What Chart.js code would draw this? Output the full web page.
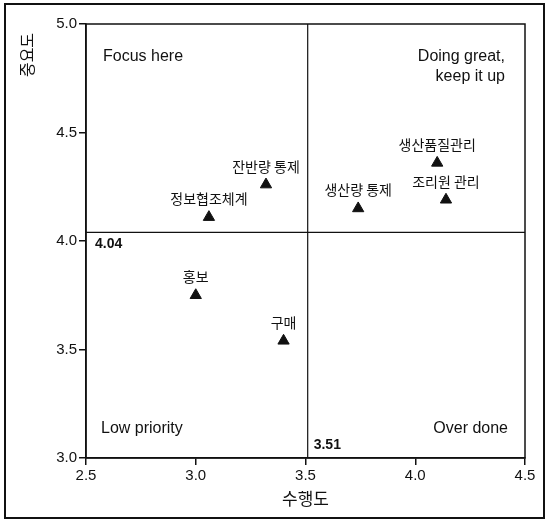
<!DOCTYPE html>
<html>
<head>
<meta charset="utf-8">
<script src="https://cdn.jsdelivr.net/npm/chart.js@4"></script>
<style>
  html, body { margin: 0; padding: 0; background: #fff; }
  #wrap { width: 548px; height: 523px; position: relative; }
</style>
</head>
<body>
<div id="wrap"><canvas id="ipa" width="548" height="523"></canvas></div>
<script>
// IPA data: 수행도 (x) vs 중요도 (y)
const items = ['정보협조체계', '잔반량 통제', '생산량 통제', '생산품질관리', '조리원 관리', '홍보', '구매'];
const performance = [3.06, 3.32, 3.74, 4.10, 4.14, 3.00, 3.40];
const importance = [4.11, 4.26, 4.15, 4.36, 4.19, 3.75, 3.54];

const meanPerformance = 3.51;
const meanImportance = 4.04;

const xTicks = [2.5, 3.0, 3.5, 4.0, 4.5];
const yTicks = [3.0, 3.5, 4.0, 4.5, 5.0];

const xTitle = '수행도';
const yTitle = '중요도';
const quadrantNames = ['Focus here', 'Doing great,\nkeep it up', 'Low priority', 'Over done'];

const numFont = '"Liberation Sans", Arial, sans-serif';
const krFont = '"Noto Sans CJK KR", "Noto Sans", sans-serif';

const points = items.map((name, i) => ({ x: performance[i], y: importance[i], name: name }));

// draws outer frame, plot box, y title, point labels and quadrant texts
const decorations = {
    id: 'decorations',
    beforeDraw(chart) {
        const ctx = chart.ctx;
        ctx.save();
        ctx.strokeStyle = '#111';
        ctx.lineWidth = 2;
        ctx.strokeRect(5, 4, 539, 514);
        ctx.restore();
    },
    afterDatasetsDraw(chart) {
        const ctx = chart.ctx;
        const area = chart.chartArea;
        const xs = chart.scales.x;
        const ys = chart.scales.y;
        ctx.save();

        // plot box
        ctx.strokeStyle = '#111';
        ctx.lineWidth = 1.5;
        ctx.strokeRect(area.left, area.top, area.right - area.left, area.bottom - area.top);

        // y title, rotated, near the top
        ctx.save();
        ctx.translate(27, area.top + 31);
        ctx.rotate(-Math.PI / 2);
        ctx.fillStyle = '#111';
        ctx.font = '16px ' + krFont;
        ctx.textAlign = 'center';
        ctx.textBaseline = 'middle';
        ctx.fillText(yTitle, 0, 0);
        ctx.restore();

        // point labels
        const meta = chart.getDatasetMeta(0);
        ctx.fillStyle = '#111';
        ctx.font = '14px ' + krFont;
        ctx.textAlign = 'center';
        ctx.textBaseline = 'alphabetic';
        meta.data.forEach((pt, i) => {
            ctx.fillText(points[i].name, pt.x, pt.y - 13);
        });

        // quadrant names
        ctx.font = '16px ' + numFont;
        ctx.textBaseline = 'middle';
        ctx.textAlign = 'left';
        ctx.fillText(quadrantNames[0], area.left + 17, area.top + 33);
        ctx.fillText(quadrantNames[2], area.left + 15, area.bottom - 29);
        ctx.textAlign = 'right';
        quadrantNames[1].split('\n').forEach((line, k) => {
            ctx.fillText(line, area.right - 20, area.top + 33 + k * 20);
        });
        ctx.fillText(quadrantNames[3], area.right - 17, area.bottom - 29);

        // mean value labels
        ctx.font = 'bold 14px ' + numFont;
        ctx.textAlign = 'left';
        ctx.fillText(meanImportance.toFixed(2), area.left + 9, ys.getPixelForValue(meanImportance) + 12);
        ctx.fillText(meanPerformance.toFixed(2), xs.getPixelForValue(meanPerformance) + 6, area.bottom - 13);

        ctx.restore();
    }
};

new Chart(document.getElementById('ipa'), {
    type: 'scatter',
    data: {
        datasets: [
            {
                label: '항목',
                data: points,
                pointStyle: 'triangle',
                pointRadius: 6.5,
                backgroundColor: '#111',
                borderColor: '#111',
                borderWidth: 1
            },
            {
                label: 'mean importance',
                type: 'line',
                data: [{ x: xTicks[0], y: meanImportance }, { x: xTicks[xTicks.length - 1], y: meanImportance }],
                borderColor: '#111',
                borderWidth: 1.2,
                pointRadius: 0
            },
            {
                label: 'mean performance',
                type: 'line',
                data: [{ x: meanPerformance, y: yTicks[0] }, { x: meanPerformance, y: yTicks[yTicks.length - 1] }],
                borderColor: '#111',
                borderWidth: 1.2,
                pointRadius: 0
            }
        ]
    },
    options: {
        responsive: false,
        animation: false,
        layout: { padding: { left: 6, right: 23, top: 24, bottom: 12 } },
        plugins: {
            legend: { display: false },
            tooltip: { enabled: false }
        },
        scales: {
            x: {
                type: 'linear',
                min: 2.5,
                max: 4.5,
                afterBuildTicks: (axis) => { axis.ticks = xTicks.map(v => ({ value: v })); },
                afterFit: (axis) => { axis.height = 53; },
                border: { display: true, color: '#111', width: 1.5 },
                grid: { drawOnChartArea: false, color: '#111', tickLength: 7, lineWidth: 1.5 },
                ticks: {
                    color: '#111',
                    padding: 2,
                    font: { family: numFont, size: 15 },
                    callback: (v) => v.toFixed(1)
                },
                title: {
                    display: true,
                    text: xTitle,
                    color: '#111',
                    padding: { top: 2, bottom: 2 },
                    font: { family: krFont, size: 17 }
                }
            },
            y: {
                type: 'linear',
                min: 3.0,
                max: 5.0,
                afterBuildTicks: (axis) => { axis.ticks = yTicks.map(v => ({ value: v })); },
                afterFit: (axis) => { axis.width = 80; },
                border: { display: true, color: '#111', width: 1.5 },
                grid: { drawOnChartArea: false, color: '#111', tickLength: 7, lineWidth: 1.5 },
                ticks: {
                    color: '#111',
                    padding: 2,
                    font: { family: numFont, size: 15 },
                    callback: (v) => v.toFixed(1)
                },
                title: { display: false }
            }
        }
    },
    plugins: [decorations]
});
</script>
</body>
</html>
